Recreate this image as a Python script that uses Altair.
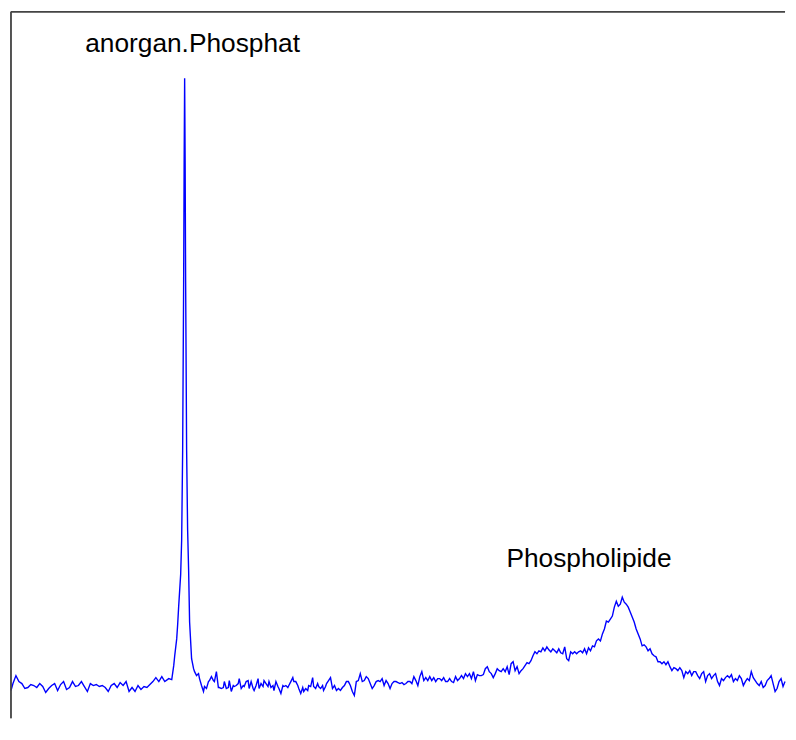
import altair as alt
import pandas as pd

# spectrum: (channel, intensity)
baseline_left = [
    (0, 8), (2, 15), (5, 23), (8, 17), (11, 15), (14, 10), (17, 11), (20, 14), (23, 13), (26, 11),
    (29, 15), (32, 12), (35, 6), (38, 10), (41, 13), (44, 15), (47, 8), (50, 14), (53, 17), (56, 9),
    (59, 11), (62, 17), (65, 12), (68, 13), (71, 17), (74, 12), (77, 7), (80, 15), (83, 13), (86, 14),
    (89, 12), (92, 13), (95, 11), (98, 7), (101, 13), (104, 15), (107, 11), (110, 16), (113, 13), (116, 17),
    (119, 7), (122, 11), (125, 7), (128, 13), (131, 9), (134, 12), (137, 11), (140, 14), (143, 17), (146, 21),
    (149, 17), (152, 22), (155, 17),
]

phosphate_peak = [
    (159, 20), (162, 19), (164, 33), (165, 43), (167, 60), (168, 75), (169, 93), (171, 125), (172, 160),
    (173, 250), (174, 420), (174.5, 540), (175, 625), (175.5, 540), (176, 420), (177, 250), (178, 170),
    (179, 130), (180, 77), (182, 40), (184, 30), (185, 27), (187, 23), (189, 25), (190, 20),
]

baseline_mid = [
    (192, 13), (194, 7), (195, 12), (197, 10), (199, 17), (200, 18), (202, 22), (204, 18), (205, 17),
    (207, 27), (209, 11), (210, 11), (212, 10), (214, 11), (215, 17), (217, 10), (219, 11), (220, 18),
    (222, 7), (224, 13), (225, 12), (227, 13), (229, 15), (230, 20), (232, 10), (234, 13), (235, 12),
    (237, 17), (239, 18), (240, 10), (242, 17), (244, 10), (245, 8), (247, 13), (249, 20), (250, 10),
    (252, 15), (254, 12), (255, 18), (257, 15), (259, 12), (260, 17), (262, 11), (264, 13), (265, 8),
    (267, 17), (269, 12), (270, 10), (272, 5), (274, 13), (275, 12), (277, 13), (279, 11), (280, 13),
    (282, 17), (284, 21), (285, 17), (287, 17), (289, 13), (290, 10), (292, 5), (294, 11), (295, 7),
    (297, 10), (299, 8), (300, 13), (302, 12), (304, 21), (305, 12), (307, 10), (309, 15), (310, 12),
    (312, 10), (314, 13), (315, 8), (317, 12),
    (318, 15), (320, 18), (322, 21), (324, 10), (326, 13), (328, 8), (330, 10), (332, 8), (334, 11),
    (336, 13), (338, 17), (340, 17), (342, 13), (344, 7), (346, 3), (348, 17), (350, 18), (352, 25),
    (354, 17), (356, 18), (358, 22), (360, 20), (362, 15), (364, 10), (366, 13), (368, 17), (370, 18),
    (372, 17), (374, 20), (376, 13), (378, 18), (380, 15), (382, 10), (384, 15), (386, 17), (388, 17),
    (390, 16), (392, 15), (394, 16), (396, 14), (398, 15), (400, 17), (402, 17), (404, 15), (406, 22),
    (408, 18), (410, 13), (412, 22), (414, 27), (416, 18), (418, 21), (420, 18), (422, 22), (424, 18),
    (426, 21), (428, 17), (430, 20), (432, 20), (434, 18), (436, 21), (438, 17), (440, 17), (442, 20),
    (444, 17), (446, 16), (448, 22), (450, 18), (452, 20), (454, 23), (456, 20), (458, 25), (460, 22),
    (462, 25), (464, 20), (466, 27), (468, 18), (470, 24), (472, 23), (474, 23), (476, 24),
]

phospholipid_band = [
    (478, 30), (480, 32), (482, 27), (484, 25), (486, 21), (488, 25), (490, 30), (492, 28), (494, 27),
    (496, 30), (498, 27), (500, 32), (502, 24), (504, 35), (506, 37), (508, 28), (510, 32), (512, 25),
    (514, 28), (516, 30), (518, 33), (520, 36), (522, 35), (524, 38), (526, 43), (528, 47), (530, 45),
    (532, 48), (534, 47), (536, 51), (538, 48), (540, 52), (542, 49), (544, 47), (546, 50), (548, 48),
    (550, 46), (552, 50), (554, 46), (556, 45), (558, 52), (560, 40), (562, 38), (564, 47), (566, 45),
    (568, 47), (570, 45), (572, 47), (574, 48), (576, 46), (578, 50), (580, 45), (582, 51), (584, 48),
    (586, 53), (588, 52), (590, 58), (592, 60), (594, 58), (596, 65), (598, 70), (600, 78), (602, 77),
    (604, 80), (606, 83), (608, 92), (610, 98), (612, 93), (614, 95), (616, 102), (618, 97), (620, 95),
    (622, 92), (624, 87), (626, 82), (628, 77), (630, 70), (632, 65),
]

baseline_right = [
    (634, 60), (636, 53), (638, 54), (640, 52), (642, 48), (644, 50), (646, 45), (648, 43), (650, 42),
    (652, 37), (654, 37), (656, 35), (658, 37), (660, 34), (662, 37), (664, 32), (666, 28), (668, 31),
    (670, 30), (672, 28), (674, 31), (676, 28), (678, 21), (680, 27), (682, 25), (684, 28), (686, 23),
    (688, 27), (690, 27), (692, 23), (694, 20), (696, 25), (698, 27), (700, 17), (702, 23), (704, 25),
    (706, 20), (708, 23), (710, 25), (712, 17), (714, 13), (716, 20), (718, 18), (720, 21), (722, 23),
    (724, 21), (726, 24), (728, 17), (730, 20), (732, 18), (734, 23), (736, 20), (738, 13), (740, 17),
    (742, 20), (744, 18), (746, 27), (748, 21), (750, 18), (752, 15), (754, 13), (756, 17), (758, 11),
    (760, 13), (762, 18), (764, 20), (766, 23), (768, 15), (770, 7), (772, 10), (774, 17), (776, 20),
    (778, 12), (780, 17),
]

label_text = ["anorgan.Phosphat", "Phospholipide"]
label_channel = [183, 582.5]
label_intensity = [651, 132]

points = baseline_left + phosphate_peak + baseline_mid + phospholipid_band + baseline_right
spec = pd.DataFrame(points, columns=["channel", "intensity"])
labels = pd.DataFrame({"text": label_text, "channel": label_channel, "intensity": label_intensity})

W, H = 780, 712
xs = alt.Scale(domain=[0, 780], nice=False, zero=False)
ys = alt.Scale(domain=[-20, 692], nice=False, zero=False)

line = alt.Chart(spec).mark_line(color="#0000ff", strokeWidth=1.4).encode(
    x=alt.X("channel:Q", scale=xs, axis=None),
    y=alt.Y("intensity:Q", scale=ys, axis=None),
    order="channel:Q",
)

text = alt.Chart(labels).mark_text(
    font="Liberation Sans", fontSize=26.5, color="black", align="center", baseline="alphabetic"
).encode(
    x=alt.X("channel:Q", scale=xs, axis=None),
    y=alt.Y("intensity:Q", scale=ys, axis=None),
    text="text:N",
)

left_border = alt.Chart(labels).mark_rule(color="#444444", strokeWidth=1.4).encode(
    x=alt.value(0), y=alt.value(0), y2=alt.value(H)
)
top_border = alt.Chart(labels).mark_rule(color="#444444", strokeWidth=1.4).encode(
    y=alt.value(0), x=alt.value(0), x2=alt.value(W)
)

chart = alt.layer(line, text, left_border, top_border).properties(
    width=W, height=H, padding=0
).configure_view(stroke=None)

chart.save("out.html", embed_options={"renderer": "svg", "actions": False})
